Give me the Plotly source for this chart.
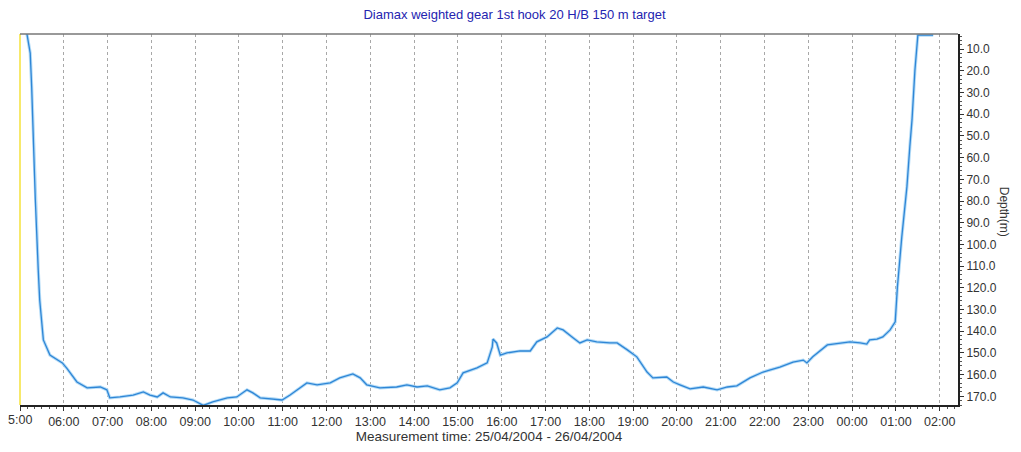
import pandas as pd
import plotly.graph_objects as go

title = "Diamax weighted gear 1st hook 20 H/B 150 m target"
x_title = "Measurement time: 25/04/2004 - 26/04/2004"

# sample times (hh:mm) from 25/04/2004 05:00 onwards, rolling over midnight
times = ["05:08", "05:10", "05:14", "05:16", "05:18", "05:21", "05:25", "05:27", "05:32", "05:41",
         "05:58", "06:04", "06:18", "06:32", "06:50", "06:59", "07:03", "07:17", "07:35", "07:49",
         "07:58", "08:08", "08:16", "08:26", "08:43", "08:57", "09:11", "09:24", "09:44", "09:57",
         "10:11", "10:19", "10:29", "10:47", "10:59", "11:10", "11:24", "11:33", "11:47", "12:05",
         "12:18", "12:36", "12:46", "12:55", "13:13", "13:36", "13:50", "14:04", "14:18", "14:35",
         "14:49", "14:59", "15:07", "15:26", "15:40", "15:47", "15:48", "15:53", "15:58", "16:07",
         "16:25", "16:39", "16:48", "17:02", "17:16", "17:24", "17:38", "17:47", "17:57", "18:10",
         "18:28", "18:38", "18:52", "19:05", "19:19", "19:27", "19:46", "19:55", "20:04", "20:18",
         "20:36", "20:55", "21:09", "21:22", "21:40", "21:58", "22:08", "22:21", "22:39", "22:53",
         "22:58", "23:06", "23:26", "23:43", "23:57", "00:11", "00:20", "00:24", "00:34", "00:42",
         "00:52", "00:59", "01:02", "01:08", "01:15", "01:19", "01:22", "01:26", "01:30", "01:51"]
depth = [0.0, 3.5, 11.8, 27.4, 48.6, 79.5, 111.8, 125.6, 144.0, 151.0,
         154.6, 157.0, 163.4, 166.1, 165.7, 167.0, 170.7, 170.3, 169.4, 168.0,
         169.4, 170.3, 168.4, 170.3, 170.7, 171.7, 174.2, 172.6, 170.7, 170.3,
         167.0, 168.4, 170.7, 171.2, 171.7, 169.4, 166.1, 163.8, 164.7, 163.8,
         161.5, 159.7, 161.5, 164.7, 166.1, 165.7, 164.7, 165.7, 165.2, 167.0,
         166.1, 163.8, 159.2, 156.9, 154.6, 147.2, 143.6, 145.4, 151.0, 150.0,
         149.1, 149.1, 144.9, 142.6, 138.5, 139.4, 143.1, 145.4, 144.0, 144.9,
         145.4, 145.4, 148.6, 151.8, 158.8, 161.5, 161.1, 163.4, 164.7, 166.6,
         165.7, 167.0, 165.7, 165.2, 161.5, 158.8, 157.8, 156.5, 154.2, 153.3,
         154.6, 151.8, 146.3, 145.4, 144.9, 145.4, 145.9, 144.0, 143.6, 142.6,
         139.4, 135.7, 119.6, 96.5, 73.5, 55.0, 42.6, 19.6, 3.5, 3.5]

hour_ticks = ["05:00", "06:00", "07:00", "08:00", "09:00", "10:00", "11:00", "12:00", "13:00",
              "14:00", "15:00", "16:00", "17:00", "18:00", "19:00", "20:00", "21:00", "22:00",
              "23:00", "00:00", "01:00", "02:00"]
depth_ticks = [10, 20, 30, 40, 50, 60, 70, 80, 90, 100, 110, 120, 130, 140, 150, 160, 170]


def to_dt(hhmm_list):
    out = []
    for s in hhmm_list:
        day = "2004-04-25" if int(s[:2]) >= 5 else "2004-04-26"
        out.append(pd.Timestamp(day + " " + s))
    return out


x = to_dt(times)
tick_dt = to_dt(hour_ticks)
# the first label sits on the page edge, plotly would drop it, so it is drawn as an annotation
tick_txt = [""] + hour_ticks[1:]

fig = go.Figure()
fig.add_trace(go.Scatter(x=x, y=depth, mode="lines",
                         line=dict(color="#b5dcf7", width=3.2), hoverinfo="skip"))
fig.add_trace(go.Scatter(x=x, y=depth, mode="lines",
                         line=dict(color="#2f86d6", width=1.3), name="Depth"))

# page body has an 8px margin, so the figure is sized to fill the rest of the window
fig.update_layout(
    width=1013, height=444,
    margin=dict(l=12, r=63, t=26, b=47),
    paper_bgcolor="white", plot_bgcolor="white",
    showlegend=False,
    font=dict(family="Liberation Sans, Arial, sans-serif", size=12, color="#333333"),
    title=dict(text=title, x=0.5, xanchor="center", y=0.995, yanchor="top",
               font=dict(size=13, color="#2424b0")),
)

fig.update_xaxes(
    type="date", automargin=False,
    range=[pd.Timestamp("2004-04-25 05:00"), pd.Timestamp("2004-04-26 02:25")],
    tickvals=tick_dt, ticktext=tick_txt, tickfont=dict(size=12.5),
    showgrid=True, gridcolor="#a8a8a8", griddash="3px,3px", gridwidth=1,
    showline=True, linecolor="#222222", linewidth=2,
    ticks="outside", ticklen=4, tickcolor="#333333",
    minor=dict(dtick=10 * 60 * 1000, ticks="outside", ticklen=2, tickcolor="#555555", showgrid=False),
    zeroline=False,
    title=dict(text=x_title, font=dict(size=13.5, color="#333333"), standoff=1),
)

fig.update_yaxes(
    side="right", automargin=False,
    range=[174, 3],
    tickvals=depth_ticks, tickformat=".1f", tickfont=dict(size=12),
    showgrid=False, zeroline=False,
    showline=True, linecolor="#222222", linewidth=2,
    ticks="outside", ticklen=4, tickcolor="#333333",
    minor=dict(dtick=2, ticks="outside", ticklen=2, tickcolor="#555555"),
)

# frame: yellow left edge, grey top edge
fig.add_shape(type="line", xref="paper", yref="paper", x0=0, x1=0, y0=0, y1=1,
              line=dict(color="#f5e23a", width=1.5))
fig.add_shape(type="line", xref="paper", yref="paper", x0=0, x1=1, y0=1, y1=1,
              line=dict(color="#777777", width=1.5))

fig.add_annotation(text="5:00", xref="paper", yref="paper", x=0, y=0, yshift=-6,
                   xanchor="center", yanchor="top", showarrow=False,
                   font=dict(size=12.5, color="#333333"))
fig.add_annotation(text="Depth(m)", xref="paper", yref="paper", x=1.059, y=0.52,
                   showarrow=False, textangle=90, font=dict(size=12, color="#333333"))

fig.write_html("out.html")
